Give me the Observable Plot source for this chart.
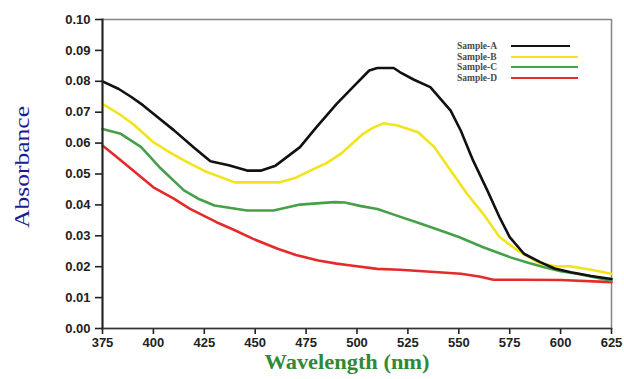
<!DOCTYPE html>
<html><head><meta charset="utf-8">
<script src="https://cdn.jsdelivr.net/npm/d3@7"></script>
<script src="https://cdn.jsdelivr.net/npm/@observablehq/plot@0.6"></script>
<style>
body{margin:0;background:#fff}
#wrap{position:relative;width:624px;height:379px;overflow:hidden}
#legend{position:absolute;left:457px;top:41px;font-family:"Liberation Serif",serif;font-size:9.5px;font-weight:bold;color:#4a4a4a}
#legend .row{display:flex;align-items:center;height:10.5px}
#legend .lab{width:54px}
#legend .sw{width:67px;height:2px}
</style>
</head><body><div id="wrap"><div id="legend"></div></div>
<script>
const xTicks = [375,400,425,450,475,500,525,550,575,600,625];
const yTicks = [0,0.01,0.02,0.03,0.04,0.05,0.06,0.07,0.08,0.09,0.10];
const names = ["Sample-A","Sample-B","Sample-C","Sample-D"];
const legendLabels = ["Sample-A","Sample-B","Sample-C","Sample-D"];
const colors = ["#111111","#f2e41c","#46a04a","#e42a2a"];

const wlA = [375,383,389,395,400,410,420,428,437,446,453,460,472,480,490,498,506,510,518,521,528,536,546,551,557,564,570,575,582,590,597,605,615,625];
const absA = [0.080,0.0775,0.075,0.0722,0.0695,0.0642,0.0585,0.0541,0.0528,0.0511,0.0511,0.0527,0.0587,0.0651,0.0727,0.0781,0.0835,0.0843,0.0843,0.083,0.0805,0.0781,0.0705,0.064,0.0544,0.0447,0.036,0.0296,0.0242,0.0215,0.0194,0.0182,0.017,0.016];

const wlB = [375,383,390,400,408,415,425,440,462,470,477,485,492,503,508,513,520,530,538,546,554,562,570,579,590,597,605,615,625];
const absB = [0.0727,0.0695,0.0662,0.0603,0.057,0.0544,0.051,0.0473,0.0473,0.0488,0.0511,0.0535,0.0565,0.063,0.065,0.0664,0.0657,0.0635,0.0587,0.0511,0.0436,0.0371,0.0296,0.0252,0.021,0.0202,0.0201,0.019,0.0177];

const wlC = [375,384,394,403,415,422,430,446,459,472,480,489,494,502,510,521,530,541,550,562,575,584,592,600,608,625];
const absC = [0.0646,0.063,0.0587,0.0522,0.0447,0.042,0.0398,0.0382,0.0382,0.0401,0.0405,0.0409,0.0408,0.0396,0.0387,0.0362,0.0342,0.0317,0.0296,0.0263,0.0231,0.0213,0.0198,0.0185,0.0177,0.0155];

const wlD = [375,382,389,400,410,418,431,440,449,461,470,481,490,497,510,521,540,551,560,567,580,600,625];
const absD = [0.0592,0.0555,0.0517,0.0457,0.042,0.0387,0.0344,0.0318,0.029,0.0258,0.0238,0.022,0.021,0.0204,0.0193,0.019,0.0182,0.0177,0.0168,0.0158,0.0158,0.0157,0.015];

const wls = [wlA,wlB,wlC,wlD];
const abss = [absA,absB,absC,absD];
const data = [];
for (let s = 3; s >= 0; s--) wls[s].forEach((w,i) => data.push({series:names[s], wl:w, abs:abss[s][i]}));

const chart = Plot.plot({
  width:624, height:379,
  marginLeft:102, marginRight:13, marginTop:19, marginBottom:51,
  style:{fontFamily:"'Liberation Sans', Arial, sans-serif", fontSize:"13px", fontWeight:"bold", color:"#222", background:"#fff", overflow:"visible"},
  x:{domain:[375,625]},
  y:{domain:[0,0.1]},
  color:{domain:names, range:colors},
  marks:[
    Plot.frame({stroke:"#8a8480", strokeWidth:1.5}),
    Plot.axisX({ticks:xTicks, tickSize:6, tickPadding:3, label:null, tickFormat:d=>String(d), strokeWidth:1.6}),
    Plot.axisY({ticks:yTicks, tickSize:7, tickPadding:5, label:null, tickFormat:d3.format(".2f"), strokeWidth:1.6}),
    Plot.line(data, {x:"wl", y:"abs", z:"series", stroke:"series", strokeWidth:2.6, curve:"linear"}),
    Plot.frame({anchor:"left", stroke:"#222", strokeWidth:2}),
    Plot.frame({anchor:"bottom", stroke:"#333", strokeWidth:1.6}),
    Plot.text(["Absorbance"], {frameAnchor:"left", lineAnchor:"middle", textAnchor:"middle", dx:-80, dy:-7, rotate:-90, fontFamily:"'Liberation Serif', serif", fontSize:20, fontWeight:"normal", fill:"#1c1c8e", className:"ylab"}),
    Plot.text(["Wavelength (nm)"], {frameAnchor:"bottom", lineAnchor:"middle", textAnchor:"middle", dx:-10, dy:34, fontFamily:"'Liberation Serif', serif", fontSize:20, fontWeight:"bold", fill:"#2f8a36", className:"xlab"})
  ]
});
document.getElementById("wrap").prepend(chart);
const yl = chart.querySelector(".ylab text"); if (yl) { yl.setAttribute("textLength","122"); yl.setAttribute("lengthAdjust","spacingAndGlyphs"); }
const xl = chart.querySelector(".xlab text"); if (xl) { xl.setAttribute("textLength","165"); xl.setAttribute("lengthAdjust","spacingAndGlyphs"); }

const lg = document.getElementById("legend");
legendLabels.forEach((t,i) => {
  const r = document.createElement("div"); r.className = "row";
  const l = document.createElement("span"); l.className = "lab"; l.textContent = t;
  const s = document.createElement("span"); s.className = "sw"; s.style.background = colors[i];
  if (i === 0) s.style.width = "59px";
  r.append(l, s); lg.append(r);
});
</script>
</body></html>
